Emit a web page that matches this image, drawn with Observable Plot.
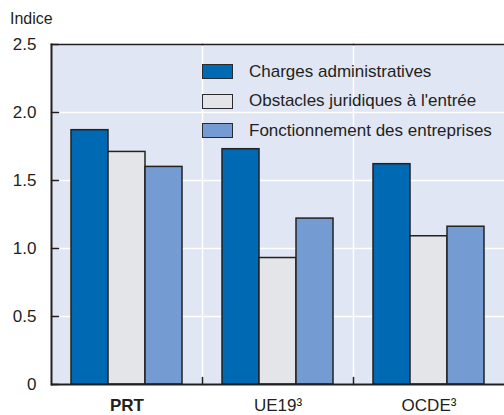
<!DOCTYPE html>
<html><head><meta charset="utf-8">
<script src="https://cdn.jsdelivr.net/npm/d3@7"></script>
<script src="https://cdn.jsdelivr.net/npm/@observablehq/plot@0.6"></script>
<style>
body{margin:0;background:#fff;}
#wrap{position:relative;width:504px;height:415px;font-family:"Liberation Sans",Arial,sans-serif;color:#231f20;}
#title{position:absolute;left:10px;top:10px;font-size:16px;}
#legend{position:absolute;left:202px;top:57px;font-size:17px;white-space:nowrap;}
.row{display:flex;align-items:center;height:29.5px;}
.sw{width:29px;height:13px;border:1.5px solid #2b2b2b;margin-right:16px;flex:none;}
svg{position:absolute;left:0;top:0;}
</style></head><body>
<div id="wrap"></div>
<script>
const groups = ["PRT", "UE19", "OCDE"];
const groupLabels = ["PRT", "UE19³", "OCDE³"];
const series = ["Charges administratives", "Obstacles juridiques à l'entrée", "Fonctionnement des entreprises"];
const prtValues = [1.87, 1.71, 1.60];
const ue19Values = [1.73, 0.93, 1.22];
const ocdeValues = [1.62, 1.09, 1.16];
const seriesColors = ["#0069b4", "#e4e5e8", "#749bd2"];
const yTicks = [0, 0.5, 1.0, 1.5, 2.0, 2.5];
const yTitle = "Indice";

const valuesByGroup = [prtValues, ue19Values, ocdeValues];
const data = [];
groups.forEach((g, gi) => series.forEach((s, si) => data.push({group: g, series: s, value: valuesByGroup[gi][si]})));

const dark = "#231f20";
const bg = "#e0e6f4";
const lineShape = {draw(context, l) { context.moveTo(0, 0); context.lineTo(0, -l); }};

const chart = Plot.plot({
  width: 504,
  height: 415,
  marginLeft: 50,
  marginRight: 0,
  marginTop: 44,
  marginBottom: 31,
  style: {fontFamily: '"Liberation Sans",Arial,sans-serif', fontSize: "17px", color: dark, background: "transparent"},
  fx: {domain: groups, padding: 0, label: null},
  x: {domain: series, paddingInner: 0, paddingOuter: 0.52, axis: null},
  y: {domain: [0, 2.5], label: null},
  color: {domain: series, range: seriesColors},
  marks: [
    Plot.frame({fill: bg}),
    Plot.gridY(yTicks, {stroke: "white", strokeOpacity: 1, strokeWidth: 1.5}),
    Plot.frame({anchor: "left", stroke: "white", strokeWidth: 1.5}),
    Plot.barY(data, {fx: "group", x: "series", y: "value", fill: "series", stroke: "#222222", strokeWidth: 1.5}),
    Plot.vector(yTicks, {y: d => d, fx: () => groups[0], frameAnchor: "left", rotate: 90, length: 7, anchor: "start", shape: lineShape, stroke: dark, strokeWidth: 1.5}),
    Plot.vector(groups.slice(1), {fx: d => d, frameAnchor: "bottom-left", length: 7, anchor: "start", shape: lineShape, stroke: dark, strokeWidth: 1.5}),
    Plot.frame({anchor: "top", stroke: dark, strokeWidth: 1.5}),
    Plot.frame({anchor: "left", fx: () => groups[0], stroke: dark, strokeWidth: 2}),
    Plot.ruleY([0], {stroke: dark, strokeWidth: 2}),
    Plot.axisY(yTicks, {anchor: "left", tickSize: 0, tickPadding: 15, tickFormat: d => d === 0 ? "0" : d.toFixed(1), fontSize: 17, label: null}),
    Plot.axisFx({anchor: "bottom", tickSize: 0, tickPadding: 14, tickFormat: d => groupLabels[groups.indexOf(d)], fontSize: 17, label: null})
  ]
});

const wrap = document.getElementById("wrap");
wrap.appendChild(chart);
d3.select(chart).selectAll("text").filter(function() { return this.textContent === "PRT"; }).attr("font-weight", "bold");

const title = document.createElement("div");
title.id = "title";
title.textContent = yTitle;
wrap.appendChild(title);

const legend = document.createElement("div");
legend.id = "legend";
series.forEach((s, i) => {
  const row = document.createElement("div");
  row.className = "row";
  const sw = document.createElement("div");
  sw.className = "sw";
  sw.style.background = seriesColors[i];
  const t = document.createElement("span");
  t.textContent = s;
  row.appendChild(sw);
  row.appendChild(t);
  legend.appendChild(row);
});
wrap.appendChild(legend);
</script>
</body></html>
